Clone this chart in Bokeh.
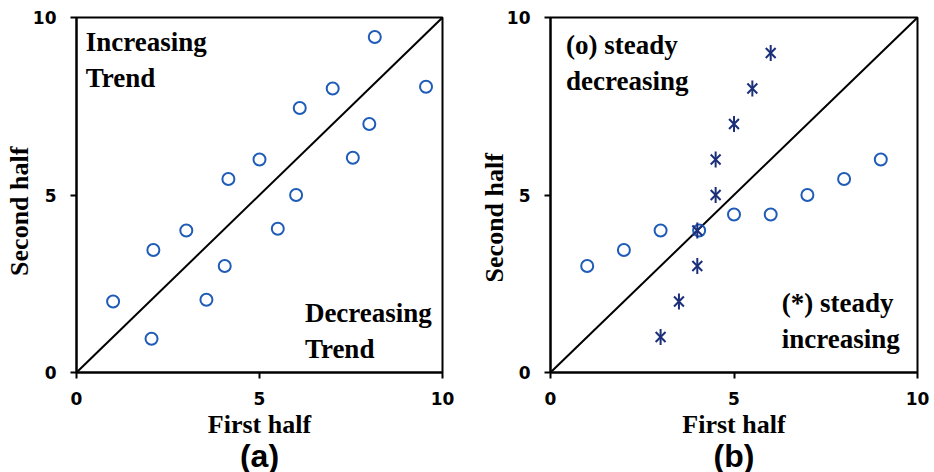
import math
from bokeh.plotting import figure
from bokeh.layouts import row
from bokeh.models import Label, Range1d, FixedTicker, Title
from bokeh.embed import file_html
from bokeh.resources import INLINE

# Panel (a) data
a_x = [1.0, 2.05, 2.1, 3.0, 3.55, 4.05, 4.15, 5.0, 5.5, 6.0, 6.1, 7.0, 7.55, 8.0, 8.15, 9.55]
a_y = [2.0, 0.95, 3.45, 4.0, 2.05, 3.0, 5.45, 6.0, 4.05, 5.0, 7.45, 8.0, 6.05, 7.0, 9.45, 8.05]

# Panel (b) data: circles (steady decreasing) and stars (steady increasing)
b_circ_x = [1.0, 2.0, 3.0, 4.05, 5.0, 6.0, 7.0, 8.0, 9.0]
b_circ_y = [3.0, 3.45, 4.0, 4.0, 4.45, 4.45, 5.0, 5.45, 6.0]
b_star_x = [3.0, 3.5, 4.0, 4.0, 4.5, 4.5, 5.0, 5.5, 6.0]
b_star_y = [1.0, 2.0, 3.0, 4.0, 5.0, 6.0, 7.0, 8.0, 9.0]

diag = [0, 10]
ticks = [0, 5, 10]

CIRC = "#1f5cb8"
STAR = "#1c2f7a"
SERIF = "Liberation Serif"
SANS = "DejaVu Sans"
NBSP = "\u00a0"


def make_panel(left, right, letter, ylab_pad, ylab_standoff):
    p = figure(width=467, height=472, x_range=Range1d(0, 10), y_range=Range1d(0, 10),
               output_backend="svg", toolbar_location=None,
               min_border_left=left, min_border_right=right,
               min_border_top=17, min_border_bottom=100)
    p.grid.visible = False
    p.outline_line_color = "black"
    p.outline_line_width = 2
    p.background_fill_color = "white"
    p.border_fill_color = "white"
    for ax in (p.xaxis[0], p.yaxis[0]):
        ax.ticker = FixedTicker(ticks=ticks)
        ax.axis_line_color = "black"
        ax.axis_line_width = 2
        ax.major_tick_in = 0
        ax.major_tick_out = 6
        ax.major_tick_line_width = 2
        ax.minor_tick_line_color = None
        ax.major_label_text_font = SANS
        ax.major_label_text_font_style = "bold"
        ax.major_label_text_font_size = "17px"
        ax.major_label_text_color = "black"
        ax.axis_label_text_font = SERIF
        ax.axis_label_text_font_style = "bold"
        ax.axis_label_text_font_size = "26px"
        ax.axis_label_text_color = "black"
    p.xaxis.major_label_standoff = 13
    p.yaxis.major_label_standoff = 14
    p.xaxis.axis_label = "First half"
    p.xaxis.axis_label_standoff = 2
    p.yaxis.axis_label = "Second half" + NBSP * ylab_pad
    p.yaxis.axis_label_standoff = ylab_standoff

    p.add_layout(Title(text=letter, align="center", standoff=-12,
                       text_font="Liberation Sans", text_font_style="bold",
                       text_font_size="32px", text_color="black"), "below")
    p.line(diag, diag, line_color="black", line_width=2)
    return p


def note(p, x, y, text):
    p.add_layout(Label(x=x, y=y, text=text, text_align="left", text_baseline="top",
                       text_font=SERIF, text_font_style="bold",
                       text_font_size="27px", text_color="black",
                       text_line_height=1.2))


pa = make_panel(76, 25, "(a)", 5, -4)
pa.scatter(a_x, a_y, marker="circle", size=12, fill_color=None,
           line_color=CIRC, line_width=2)
note(pa, 0.25, 9.72, "Increasing\nTrend")
note(pa, 6.24, 2.1, "Decreasing\nTrend")

pb = make_panel(83, 17, "(b)", 7, -5)
pb.scatter(b_circ_x, b_circ_y, marker="circle", size=12, fill_color=None,
           line_color=CIRC, line_width=2)
pb.scatter(b_star_x, b_star_y, marker="x", size=14, line_color=STAR, line_width=2)
pb.scatter(b_star_x, b_star_y, marker="dash", angle=math.pi / 2, size=16,
           line_color=STAR, line_width=2)
note(pb, 0.42, 9.66, "(o) steady\ndecreasing")
note(pb, 6.3, 2.37, "(*) steady\nincreasing")

layout = row(pa, pb)
open("out.html", "w").write(file_html(layout, INLINE))
